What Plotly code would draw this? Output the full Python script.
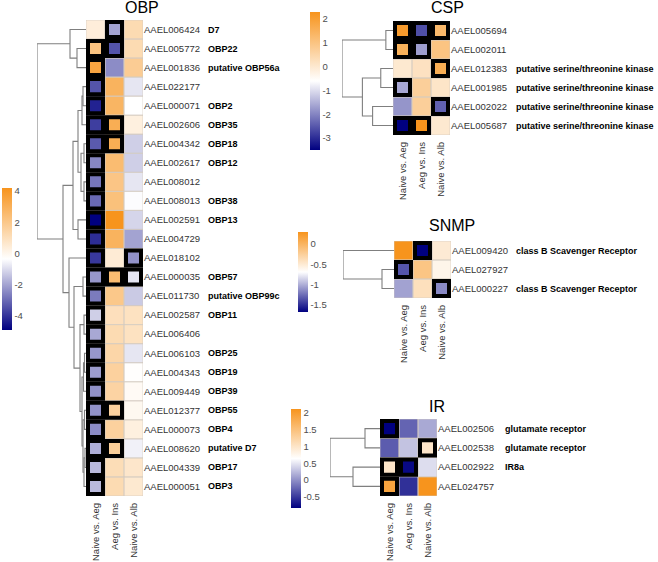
import plotly.graph_objects as go

W, H = 658, 562
FONT = "Liberation Sans, Arial, sans-serif"
NAVY = "#000080"
ORANGE = "#F7941D"

contrasts = ["Naive vs. Aeg", "Aeg vs. Ins", "Naive vs. Alb"]

# ---------------- OBP ----------------
obp_genes = ["AAEL006424", "AAEL005772", "AAEL001836", "AAEL022177", "AAEL000071",
             "AAEL002606", "AAEL004342", "AAEL002617", "AAEL008012", "AAEL008013",
             "AAEL002591", "AAEL004729", "AAEL018102", "AAEL000035", "AAEL011730",
             "AAEL002587", "AAEL006406", "AAEL006103", "AAEL004343", "AAEL009449",
             "AAEL012377", "AAEL000073", "AAEL008620", "AAEL004339", "AAEL000051"]
obp_names = ["D7", "OBP22", "putative OBP56a", "", "OBP2", "OBP35", "OBP18", "OBP12", "",
             "OBP38", "OBP13", "", "", "OBP57", "putative OBP99c", "OBP11", "", "OBP25",
             "OBP19", "OBP39", "OBP55", "OBP4", "putative D7", "OBP17", "OBP3"]
obp_values = [[0.4, -2.0, 1.2], [2.2, -3.4, 1.2], [3.5, -2.4, 1.8], [-3.4, 2.9, -0.8],
              [-4.3, 2.8, -0.35], [-3.8, 3.1, 0.3], [-3.3, 3.1, -1.2], [-2.5, 2.5, -1.2],
              [-2.8, 2.1, -0.8], [-3.0, 2.3, -0.4], [-4.9, 4.2, -1.1], [-4.1, 2.9, -2.0],
              [-3.9, 0.5, -2.3], [-2.2, 2.5, -0.8], [-2.7, 2.0, -1.3], [-1.2, 1.0, 0.9],
              [-1.9, 1.2, 0.9], [-2.2, 1.4, -0.8], [-2.1, 1.6, -0.3], [-2.3, 1.5, -0.15],
              [-2.3, 1.6, -0.05], [-2.4, 1.6, 0.3], [-1.8, 1.7, -0.6], [-1.6, 1.1, 0.7],
              [-1.6, 1.2, 0.6]]
obp_sig = [[0, 1, 0], [1, 1, 0], [1, 0, 0], [1, 0, 0], [1, 0, 0], [1, 1, 0], [1, 1, 0],
           [1, 0, 0], [1, 0, 0], [1, 0, 0], [1, 0, 0], [1, 0, 0], [1, 0, 1], [1, 1, 1],
           [1, 0, 0], [1, 0, 0], [1, 0, 0], [1, 0, 0], [1, 0, 0], [1, 0, 0], [1, 1, 0],
           [1, 0, 0], [1, 1, 0], [1, 0, 0], [1, 0, 0]]
obp_merges = [[1, 2, 9], [0, 25, 16], [3, 4, 3], [27, 5, 4], [6, 7, 2], [8, 9, 2],
              [29, 30, 5], [28, 31, 8], [10, 11, 8], [32, 33, 13], [15, 16, 2],
              [17, 18, 1.5], [36, 19, 2.5], [20, 21, 1.5], [22, 23, 1], [39, 24, 2],
              [38, 40, 3], [37, 41, 4], [35, 42, 6], [13, 14, 3], [44, 43, 12],
              [12, 45, 17], [34, 46, 23], [26, 47, 49]]
obp_ticks = [-4, -2, 0, 2, 4]
obp_ticktext = ["-4", "-2", "0", "2", "4"]

# ---------------- CSP ----------------
csp_genes = ["AAEL005694", "AAEL002011", "AAEL012383", "AAEL001985", "AAEL002022", "AAEL005687"]
csp_names = ["", "", "putative serine/threonine kinase", "putative serine/threonine kinase",
             "putative serine/threonine kinase", "putative serine/threonine kinase"]
csp_values = [[2.1, -2.6, 1.3], [1.5, -1.7, 1.0], [0.0, 0.2, 1.6], [-1.6, 0.7, 0.1],
              [-1.8, 0.7, -2.4], [-3.5, 2.3, 0.0]]
csp_sig = [[1, 1, 1], [1, 1, 0], [0, 0, 1], [1, 0, 0], [0, 0, 1], [1, 1, 0]]
csp_merges = [[0, 1, 7], [2, 3, 12], [4, 5, 20], [7, 8, 30], [6, 9, 50]]
csp_ticks = [-3, -2, -1, 0, 1, 2]
csp_ticktext = ["-3", "-2", "-1", "0", "1", "2"]

# ---------------- SNMP ----------------
snmp_genes = ["AAEL009420", "AAEL027927", "AAEL000227"]
snmp_names = ["class B Scavenger Receptor", "", "class B Scavenger Receptor"]
snmp_values = [[0.3, -1.68, -0.5], [-1.35, -0.15, -0.6], [-1.05, -0.4, -1.15]]
snmp_sig = [[0, 1, 0], [1, 0, 0], [0, 0, 1]]
snmp_merges = [[1, 2, 12], [0, 3, 51]]
snmp_ticks = [-1.5, -1, -0.5, 0]
snmp_ticktext = ["-1.5", "-1", "-0.5", "0"]

# ---------------- IR ----------------
ir_genes = ["AAEL002506", "AAEL002538", "AAEL002922", "AAEL024757"]
ir_names = ["glutamate receptor", "glutamate receptor", "IR8a", ""]
ir_values = [[-0.83, -0.25, 0.15], [-0.3, 0.3, 1.0], [1.0, -0.78, 0.45], [1.9, -0.55, 2.12]]
ir_sig = [[1, 0, 0], [0, 0, 1], [1, 1, 0], [1, 0, 0]]
ir_merges = [[0, 1, 15], [2, 3, 27], [4, 5, 50]]
ir_ticks = [-0.5, 0, 0.5, 1, 1.5, 2]
ir_ticktext = ["-0.5", "0", "0.5", "1", "1.5", "2"]

# layout boxes in pixels
panels = [
    dict(title="OBP", genes=obp_genes, names=obp_names, z=obp_values, sig=obp_sig,
         merges=obp_merges, ticks=obp_ticks, ticktext=obp_ticktext,
         heat=(86, 143, 20, 496), dend_left=37, cbar=(2, 188, 142), title_xy=(142, 8),
         names_x=206),
    dict(title="CSP", genes=csp_genes, names=csp_names, z=csp_values, sig=csp_sig,
         merges=csp_merges, ticks=csp_ticks, ticktext=csp_ticktext,
         heat=(393, 450, 21, 135), dend_left=342, cbar=(310, 12, 138), title_xy=(447, 8),
         names_x=514),
    dict(title="SNMP", genes=snmp_genes, names=snmp_names, z=snmp_values, sig=snmp_sig,
         merges=snmp_merges, ticks=snmp_ticks, ticktext=snmp_ticktext,
         heat=(394, 451, 241, 298), dend_left=343, cbar=(298, 232, 80), title_xy=(452, 226),
         names_x=514),
    dict(title="IR", genes=ir_genes, names=ir_names, z=ir_values, sig=ir_sig,
         merges=ir_merges, ticks=ir_ticks, ticktext=ir_ticktext,
         heat=(380, 437, 419, 496), dend_left=330, cbar=(291, 409, 99), title_xy=(437, 406),
         names_x=503),
]


def xd(px):
    return px / W


def yd(py):
    return 1 - py / H


def dendro_xy(n, merges):
    pos = {i: (0.0, float(i)) for i in range(n)}
    xs, ys = [], []
    for k, (a, b, h) in enumerate(merges):
        ha, ya = pos[a]
        hb, yb = pos[b]
        xs += [ha, h, h, hb, None]
        ys += [ya, ya, yb, yb, None]
        pos[n + k] = (h, (ya + yb) / 2)
    return xs, ys


fig = go.Figure()
shapes = []
annotations = []
layout_axes = {}

for p_i, p in enumerate(panels):
    hx = 2 * p_i + 1
    dx = hx + 1
    hy = hx
    xname = "x" if hx == 1 else f"x{hx}"
    yname = "y" if hy == 1 else f"y{hy}"
    dxname = f"x{dx}"
    n = len(p["genes"])
    ncol = len(contrasts)
    l, r, t, b = p["heat"]
    zs = [v for row in p["z"] for v in row]
    zmin, zmax = min(zs), max(zs)
    cx, ctop, clen = p["cbar"]

    fig.add_trace(go.Heatmap(
        z=p["z"], x=list(range(ncol)), y=list(range(n)),
        zmin=zmin, zmax=zmax,
        colorscale=[[0, NAVY], [0.5, "#FFFFFF"], [1, ORANGE]],
        xaxis=xname, yaxis=yname, hoverinfo="skip",
        colorbar=dict(x=xd(cx), xanchor="left", y=yd(ctop), yanchor="top",
                      len=clen, lenmode="pixels", thickness=10, thicknessmode="pixels",
                      outlinewidth=0, xpad=0, ypad=0, ticks="",
                      tickvals=p["ticks"], ticktext=p["ticktext"],
                      tickfont=dict(family=FONT, size=9.5, color="#4d4d4d")),
    ))

    dxs, dys = dendro_xy(n, p["merges"])
    root_h = p["merges"][-1][2]
    fig.add_trace(go.Scatter(x=dxs, y=dys, mode="lines", xaxis=dxname, yaxis=yname,
                             line=dict(color="#7f7f7f", width=1.1), cliponaxis=False,
                             hoverinfo="skip", showlegend=False))

    layout_axes["xaxis" if hx == 1 else f"xaxis{hx}"] = dict(
        domain=[xd(l), xd(r)], anchor=yname, range=[-0.5, ncol - 0.5],
        tickvals=list(range(ncol)), ticktext=contrasts, tickangle=-90, ticks="",
        ticklen=0, ticklabelstandoff=4, showgrid=False, zeroline=False, showline=False,
        fixedrange=True, tickfont=dict(family=FONT, size=9.5, color="#333333"))
    layout_axes["yaxis" if hy == 1 else f"yaxis{hy}"] = dict(
        domain=[yd(b), yd(t)], anchor=xname, side="right", range=[n - 0.5, -0.5],
        tickvals=list(range(n)), ticktext=p["genes"], ticks="", ticklen=0,
        showgrid=False, zeroline=False, showline=False, fixedrange=True,
        tickfont=dict(family=FONT, size=9.5, color="#333333"))
    layout_axes[f"xaxis{dx}"] = dict(
        domain=[xd(p["dend_left"]), xd(l)], anchor=yname, range=[root_h, 0],
        visible=False, fixedrange=True)

    for i in range(n):
        for j in range(ncol):
            shapes.append(dict(type="rect", xref=xname, yref=yname,
                               x0=j - 0.5, x1=j + 0.5, y0=i - 0.5, y1=i + 0.5,
                               line=dict(color="#d4cbc2", width=0.7), layer="above"))
    cell_px = (r - l) / ncol
    inset = 2.0 / cell_px
    for i in range(n):
        for j in range(ncol):
            if p["sig"][i][j]:
                shapes.append(dict(type="rect", xref=xname, yref=yname,
                                   x0=j - 0.5 + inset, x1=j + 0.5 - inset,
                                   y0=i - 0.5 + inset, y1=i + 0.5 - inset,
                                   line=dict(color="black", width=4), layer="above"))

    for i, nm in enumerate(p["names"]):
        if nm:
            annotations.append(dict(text=f"<b>{nm}</b>", xref="paper", yref=yname,
                                    x=xd(p["names_x"]), y=i, xanchor="left",
                                    yanchor="middle", showarrow=False,
                                    font=dict(family=FONT, size=9, color="black")))
    tx, ty = p["title_xy"]
    annotations.append(dict(text=p["title"], xref="paper", yref="paper",
                            x=xd(tx), y=yd(ty), xanchor="center", yanchor="middle",
                            showarrow=False, font=dict(family=FONT, size=16, color="black")))

fig.update_layout(width=W, height=H, margin=dict(l=0, r=0, t=0, b=0),
                  plot_bgcolor="white", paper_bgcolor="white", showlegend=False,
                  font=dict(family=FONT), shapes=shapes, annotations=annotations,
                  **layout_axes)

fig.write_html("out.html", config={"displayModeBar": False},
               post_script="document.body.style.margin='0';document.body.style.overflow='hidden';")
